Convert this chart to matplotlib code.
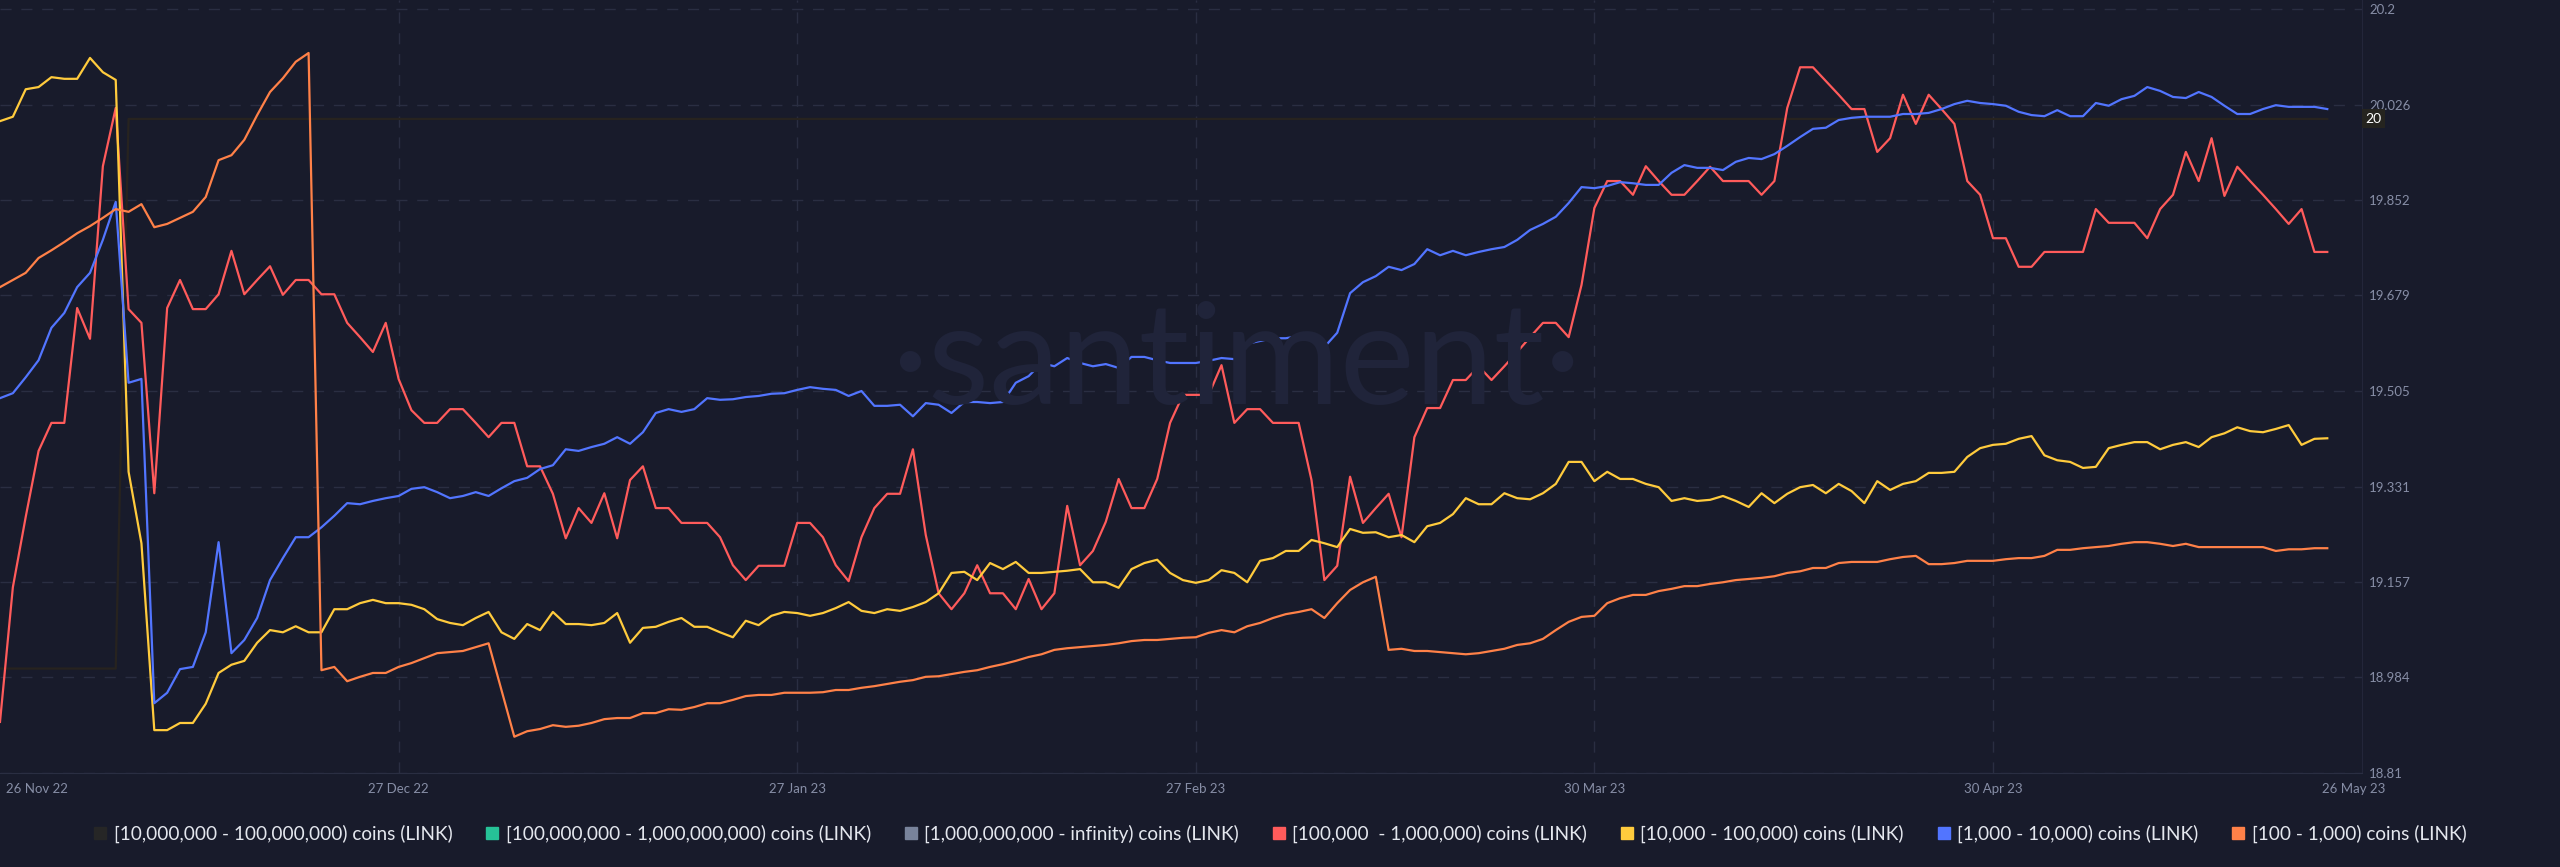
import pandas as pd
import matplotlib.pyplot as plt
from matplotlib.lines import Line2D
from matplotlib.transforms import ScaledTranslation, blended_transform_factory

plt.rcParams['font.family'] = ['Lato', 'DejaVu Sans']

dates = pd.date_range('2022-11-26', periods=182, freq='D')

# [10,000,000 - 100,000,000) holders, this is the series the right axis belongs to
holders_10m = [19.0] * 10 + [20.0] * 172

holders_100k = [
    18.903, 19.148, 19.276, 19.396, 19.447, 19.447, 19.656, 19.600, 19.914, 20.020,
    19.654, 19.629, 19.319, 19.656, 19.707, 19.654, 19.654, 19.681, 19.760, 19.681,
    19.707, 19.732, 19.680, 19.707, 19.707, 19.681, 19.681, 19.629, 19.603, 19.576,
    19.629, 19.527, 19.470, 19.447, 19.447, 19.472, 19.472, 19.447, 19.421, 19.447,
    19.447, 19.368, 19.368, 19.318, 19.237, 19.292, 19.265, 19.319, 19.237, 19.343,
    19.368, 19.292, 19.292, 19.265, 19.265, 19.265, 19.239, 19.188, 19.161, 19.187,
    19.187, 19.187, 19.265, 19.265, 19.239, 19.188, 19.159, 19.239, 19.292, 19.318,
    19.318, 19.399, 19.243, 19.137, 19.108, 19.137, 19.188, 19.137, 19.137, 19.108,
    19.163, 19.108, 19.137, 19.296, 19.188, 19.214, 19.267, 19.345, 19.292, 19.292,
    19.345, 19.447, 19.498, 19.498, 19.498, 19.552, 19.447, 19.472, 19.472, 19.447,
    19.447, 19.447, 19.343, 19.161, 19.187, 19.349, 19.265, 19.292, 19.318, 19.239,
    19.421, 19.474, 19.474, 19.525, 19.525, 19.550, 19.525, 19.550, 19.576, 19.603,
    19.629, 19.629, 19.603, 19.698, 19.838, 19.887, 19.887, 19.862, 19.914, 19.887,
    19.862, 19.862, 19.887, 19.913, 19.887, 19.887, 19.887, 19.862, 19.887, 20.020,
    20.094, 20.094, 20.069, 20.044, 20.018, 20.018, 19.940, 19.965, 20.044, 19.991,
    20.044, 20.018, 19.991, 19.887, 19.862, 19.783, 19.783, 19.731, 19.731, 19.758,
    19.758, 19.758, 19.758, 19.836, 19.811, 19.811, 19.811, 19.783, 19.836, 19.862,
    19.940, 19.887, 19.965, 19.860, 19.913, 19.887, 19.862, 19.836, 19.809, 19.836,
    19.758, 19.758]

holders_10k = [
    19.996, 20.004, 20.054, 20.058, 20.076, 20.073, 20.073, 20.111, 20.085, 20.071,
    19.358, 19.228, 18.888, 18.888, 18.901, 18.901, 18.936, 18.992, 19.007, 19.014,
    19.047, 19.070, 19.066, 19.077, 19.066, 19.066, 19.108, 19.108, 19.119, 19.125,
    19.119, 19.119, 19.116, 19.108, 19.090, 19.083, 19.079, 19.092, 19.103, 19.066,
    19.054, 19.081, 19.070, 19.103, 19.081, 19.081, 19.079, 19.083, 19.101, 19.047,
    19.074, 19.076, 19.085, 19.092, 19.076, 19.076, 19.066, 19.057, 19.087, 19.079,
    19.096, 19.103, 19.101, 19.096, 19.101, 19.110, 19.121, 19.105, 19.101, 19.108,
    19.105, 19.112, 19.121, 19.137, 19.174, 19.176, 19.161, 19.192, 19.181, 19.194,
    19.174, 19.174, 19.176, 19.178, 19.181, 19.157, 19.157, 19.147, 19.181, 19.192,
    19.198, 19.174, 19.161, 19.156, 19.161, 19.179, 19.174, 19.157, 19.196, 19.201,
    19.214, 19.214, 19.234, 19.228, 19.221, 19.254, 19.247, 19.248, 19.239, 19.243,
    19.230, 19.259, 19.265, 19.281, 19.310, 19.299, 19.299, 19.319, 19.310, 19.308,
    19.319, 19.336, 19.376, 19.376, 19.341, 19.358, 19.345, 19.345, 19.336, 19.330,
    19.305, 19.310, 19.305, 19.307, 19.314, 19.305, 19.294, 19.319, 19.301, 19.318,
    19.330, 19.334, 19.319, 19.336, 19.323, 19.301, 19.341, 19.325, 19.336, 19.341,
    19.356, 19.356, 19.358, 19.385, 19.401, 19.407, 19.409, 19.418, 19.423, 19.388,
    19.379, 19.376, 19.365, 19.367, 19.401, 19.407, 19.412, 19.412, 19.399, 19.407,
    19.412, 19.403, 19.421, 19.428, 19.439, 19.432, 19.430, 19.436, 19.443, 19.407,
    19.418, 19.419]

holders_1k = [
    19.492, 19.501, 19.530, 19.561, 19.620, 19.647, 19.694, 19.720, 19.780, 19.849,
    19.520, 19.527, 18.937, 18.956, 18.999, 19.003, 19.066, 19.230, 19.028, 19.052,
    19.092, 19.161, 19.201, 19.239, 19.239, 19.257, 19.278, 19.301, 19.299, 19.305,
    19.310, 19.314, 19.327, 19.330, 19.321, 19.310, 19.314, 19.321, 19.314, 19.328,
    19.341, 19.347, 19.363, 19.370, 19.399, 19.396, 19.403, 19.409, 19.421, 19.409,
    19.430, 19.465, 19.472, 19.467, 19.472, 19.492, 19.489, 19.490, 19.494, 19.496,
    19.500, 19.501, 19.507, 19.512, 19.509, 19.507, 19.496, 19.505, 19.478, 19.478,
    19.480, 19.459, 19.483, 19.480, 19.465, 19.485, 19.485, 19.483, 19.485, 19.520,
    19.532, 19.556, 19.550, 19.565, 19.556, 19.550, 19.554, 19.547, 19.567, 19.567,
    19.561, 19.556, 19.556, 19.556, 19.560, 19.565, 19.563, 19.591, 19.596, 19.601,
    19.601, 19.605, 19.598, 19.585, 19.611, 19.683, 19.703, 19.714, 19.731, 19.725,
    19.736, 19.763, 19.752, 19.760, 19.752, 19.758, 19.763, 19.767, 19.780, 19.798,
    19.809, 19.822, 19.847, 19.876, 19.874, 19.878, 19.885, 19.883, 19.880, 19.880,
    19.902, 19.916, 19.911, 19.911, 19.907, 19.922, 19.929, 19.927, 19.936, 19.951,
    19.967, 19.982, 19.984, 19.998, 20.002, 20.004, 20.004, 20.004, 20.009, 20.009,
    20.011, 20.018, 20.027, 20.033, 20.029, 20.027, 20.024, 20.013, 20.007, 20.005,
    20.016, 20.005, 20.005, 20.029, 20.024, 20.036, 20.042, 20.058, 20.051, 20.040,
    20.038, 20.049, 20.040, 20.024, 20.009, 20.009, 20.018, 20.025, 20.022, 20.022,
    20.022, 20.018]

holders_100 = [
    19.694, 19.707, 19.720, 19.747, 19.761, 19.776, 19.792, 19.805, 19.820, 19.836,
    19.831, 19.845, 19.803, 19.809, 19.820, 19.831, 19.858, 19.925, 19.934, 19.962,
    20.007, 20.049, 20.074, 20.104, 20.120, 18.997, 19.003, 18.977, 18.985, 18.992,
    18.992, 19.003, 19.010, 19.019, 19.028, 19.030, 19.032, 19.039, 19.046, 18.961,
    18.876, 18.886, 18.890, 18.897, 18.894, 18.896, 18.901, 18.908, 18.910, 18.910,
    18.919, 18.919, 18.926, 18.925, 18.930, 18.937, 18.937, 18.943, 18.950, 18.952,
    18.952, 18.956, 18.956, 18.956, 18.957, 18.961, 18.961, 18.965, 18.968, 18.972,
    18.976, 18.979, 18.985, 18.986, 18.990, 18.994, 18.997, 19.003, 19.008, 19.014,
    19.021, 19.026, 19.034, 19.037, 19.039, 19.041, 19.043, 19.046, 19.050, 19.052,
    19.052, 19.054, 19.056, 19.057, 19.065, 19.070, 19.066, 19.077, 19.083, 19.092,
    19.099, 19.103, 19.108, 19.092, 19.119, 19.143, 19.157, 19.167, 19.034, 19.036,
    19.032, 19.032, 19.030, 19.028, 19.026, 19.028, 19.032, 19.036, 19.043, 19.046,
    19.054, 19.070, 19.085, 19.094, 19.096, 19.119, 19.128, 19.134, 19.134, 19.141,
    19.145, 19.150, 19.150, 19.154, 19.157, 19.161, 19.163, 19.165, 19.168, 19.174,
    19.177, 19.183, 19.183, 19.192, 19.194, 19.194, 19.194, 19.199, 19.203, 19.205,
    19.190, 19.190, 19.192, 19.196, 19.196, 19.196, 19.199, 19.201, 19.201, 19.205,
    19.216, 19.216, 19.219, 19.221, 19.223, 19.227, 19.230, 19.230, 19.227, 19.223,
    19.227, 19.221, 19.221, 19.221, 19.221, 19.221, 19.221, 19.214, 19.217, 19.217,
    19.219, 19.219]

legend_labels = ['[10,000,000 - 100,000,000) coins (LINK)',
                 '[100,000,000 - 1,000,000,000) coins (LINK)',
                 '[1,000,000,000 - infinity) coins (LINK)',
                 '[100,000  - 1,000,000) coins (LINK)',
                 '[10,000 - 100,000) coins (LINK)',
                 '[1,000 - 10,000) coins (LINK)',
                 '[100 - 1,000) coins (LINK)']
legend_colors = ['#262626', '#26c297', '#78839b', '#ff5b5b', '#ffcb3d', '#5275ff', '#ff8148']

y_ticks = [18.81, 18.984, 19.157, 19.331, 19.505, 19.679, 19.852, 20.026, 20.2]
y_tick_labels = ['18.81', '18.984', '19.157', '19.331', '19.505', '19.679', '19.852', '20.026', '20.2']
x_ticks = pd.to_datetime(['2022-11-26', '2022-12-27', '2023-01-27', '2023-02-27',
                          '2023-03-30', '2023-04-30', '2023-05-26'])
x_tick_labels = ['26 Nov 22', '27 Dec 22', '27 Jan 23', '27 Feb 23',
                 '30 Mar 23', '30 Apr 23', '26 May 23']

bg = '#181b2b'
grid_c = '#2a2e42'
label_c = '#878ea6'

fig = plt.figure(figsize=(25.6, 8.67), dpi=100, facecolor=bg)
ax = fig.add_axes([0, 94 / 867, 2362 / 2560, 773 / 867])
ax.set_facecolor(bg)

# watermark
fig.text(1236 / 2560, 1 - 364 / 867, '\u00b7santiment\u00b7', fontsize=102, fontweight='normal',
         color='#20243a', ha='center', va='center', zorder=0)

ax.plot(dates, holders_10m, color='#27231f', lw=1.6, zorder=2)
ax.plot(dates, holders_100k, color=legend_colors[3], lw=1.6, zorder=3)
ax.plot(dates, holders_10k, color=legend_colors[4], lw=1.6, zorder=3)
ax.plot(dates, holders_1k, color=legend_colors[5], lw=1.6, zorder=3)
ax.plot(dates, holders_100, color=legend_colors[6], lw=1.6, zorder=3)

ax.set_xlim(dates[0], dates[0] + pd.Timedelta(days=183.7))
ax.set_ylim(18.81, 20.2164)

ax.yaxis.tick_right()
ax.set_yticks(y_ticks)
ax.set_yticklabels(y_tick_labels)
ax.set_xticks(x_ticks)
ax.set_xticklabels(x_tick_labels)
ax.tick_params(axis='both', length=0, colors=label_c, labelsize=9.5)
ax.tick_params(axis='y', pad=5)
ax.tick_params(axis='x', pad=7)

xl = ax.get_xticklabels()
xl[0].set_ha('left')
xl[0].set_transform(xl[0].get_transform() + ScaledTranslation(0.06, 0, fig.dpi_scale_trans))
xl[-1].set_transform(xl[-1].get_transform() + ScaledTranslation(0.26, 0, fig.dpi_scale_trans))

ax.grid(axis='y', color=grid_c, lw=1, ls=(0, (8, 7)), zorder=0)
for d in x_ticks[1:-1]:
    ax.axvline(d, color=grid_c, lw=1, ls=(0, (8, 7)), zorder=0)

for s in ['top', 'left']:
    ax.spines[s].set_visible(False)
ax.spines['right'].set_color('#23263a')
ax.spines['bottom'].set_color(grid_c)

# current value badge
tr = blended_transform_factory(ax.transAxes, ax.transData)
ax.text(1.0015, holders_10m[-1], '20', transform=tr, color='white', fontsize=10,
        ha='left', va='center', clip_on=False,
        bbox=dict(boxstyle='square,pad=0.25', fc='#25241f', ec='none'))

handles = [Line2D([], [], marker='s', ls='none', markersize=8.5, markerfacecolor=c, markeredgecolor=c)
           for c in legend_colors]
fig.legend(handles, legend_labels, loc='center', bbox_to_anchor=(0.5, 1 - 834 / 867), ncol=7,
           frameon=False, fontsize=13.7, labelcolor='#e4e7ee', handlelength=0.7,
           handletextpad=0.35, columnspacing=1.75)

fig.savefig('out.png', dpi=100, facecolor=bg)
